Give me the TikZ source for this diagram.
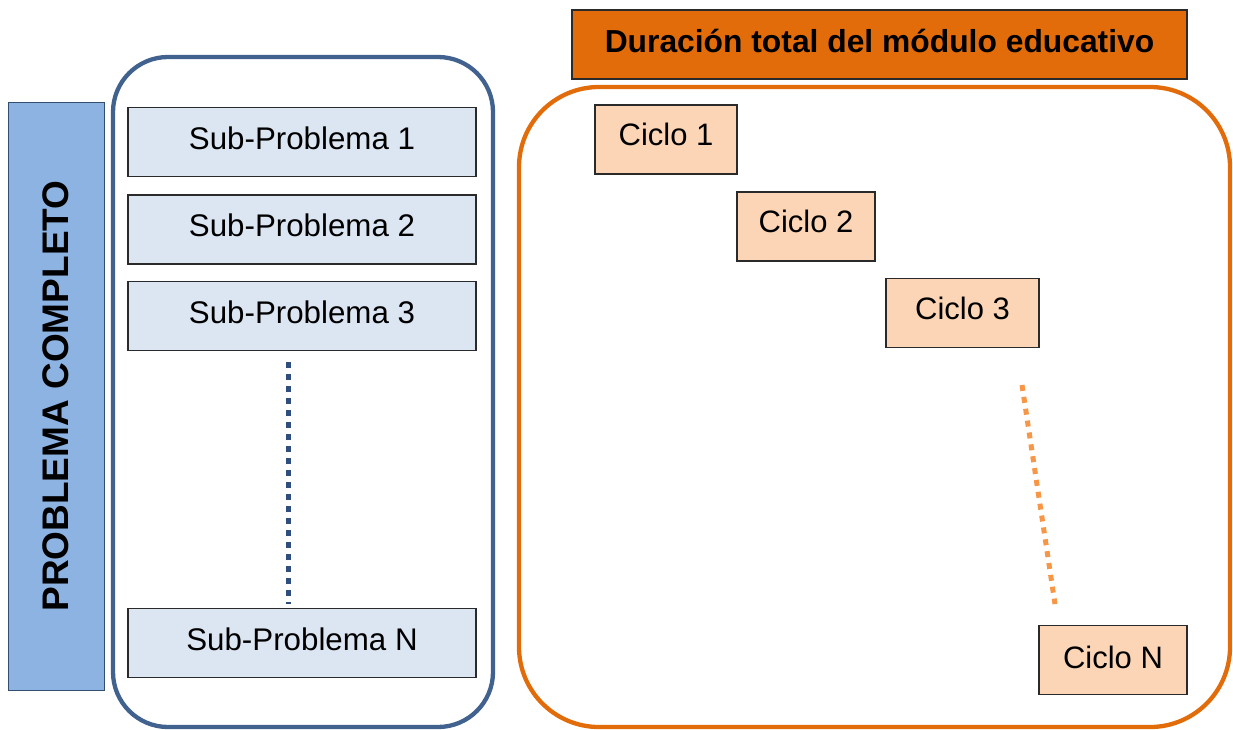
\documentclass[tikz,border=0pt]{standalone}
\usepackage{fontspec}
\setmainfont{Liberation Sans}
\definecolor{barblue}{HTML}{8DB3E2}
\definecolor{frameblue}{HTML}{41628E}
\definecolor{subfill}{HTML}{DCE6F2}
\definecolor{dotblue}{HTML}{2F4E7E}
\definecolor{headorange}{HTML}{E36C0A}
\definecolor{ciclofill}{HTML}{FBD5B5}
\definecolor{dotorange}{HTML}{F79646}
\definecolor{edgedark}{HTML}{2A2A2A}
\tikzset{
  x=1pt, y=-1pt,
  subbox/.style={draw=edgedark, line width=1.2pt, fill=subfill, minimum width=348pt,
    minimum height=69pt, inner sep=0pt, font=\fontsize{31.3}{36}\selectfont},
  ciclobox/.style={draw=edgedark, line width=1.2pt, fill=ciclofill, minimum height=69pt,
    inner sep=0pt, font=\fontsize{31}{36}\selectfont},
  frame/.style={line width=4.3pt, rounded corners=#1},
  dotline/.style={line width=5pt, dash pattern=on 6pt off 6pt},
}
\begin{document}
\begin{tikzpicture}
\useasboundingbox (0,0) rectangle (1233,729);

% left side: whole problem split into sub-problems
\node[draw=frameblue!80!black, line width=1pt, fill=barblue, minimum width=96pt,
  minimum height=588pt, inner sep=0pt] (bar) at (56,396) {};
\node[rotate=90, font=\fontsize{37}{40}\selectfont\bfseries] (bartext) at (56,396) {PROBLEMA COMPLETO};
\draw[frame=55pt, draw=frameblue] (113,57) rectangle (493,727);

\node[subbox] (s1) at (302,142) {\raisebox{8pt}{Sub-Problema 1}};
\node[subbox] (s2) at (302,229.5) {\raisebox{8pt}{Sub-Problema 2}};
\node[subbox] (s3) at (302,316) {\raisebox{8pt}{Sub-Problema 3}};
\node[subbox] (sn) at (302,643) {\raisebox{8pt}{Sub-Problema N}};
\coordinate (ds) at (288,362);
\coordinate (de) at (288,604);
\draw[dotline, draw=dotblue] (ds) -- (de);

% right side: total duration split into cycles
\node[draw=edgedark, line width=1.2pt, fill=headorange, minimum width=615pt,
  minimum height=69pt, inner sep=0pt, font=\fontsize{31.8}{36}\selectfont\bfseries]
  (head) at (879.5,44.5) {\raisebox{7pt}{Duración total del módulo educativo}};
\draw[frame=80pt, draw=headorange] (519,87) rectangle (1230,727);

\node[ciclobox, minimum width=142pt] (c1) at (666,139.5) {\raisebox{10pt}{Ciclo 1}};
\node[ciclobox, minimum width=138pt] (c2) at (806,226.5) {\raisebox{10pt}{Ciclo 2}};
\node[ciclobox, minimum width=153pt] (c3) at (962.5,313) {\raisebox{10pt}{Ciclo 3}};
\node[ciclobox, minimum width=148pt] (cn) at (1113,660) {\raisebox{6pt}{Ciclo N}};
\coordinate (os) at (1022,385);
\coordinate (oe) at (1055,604);
\draw[dotline, draw=dotorange] (os) -- (oe);
\end{tikzpicture}
\end{document}
